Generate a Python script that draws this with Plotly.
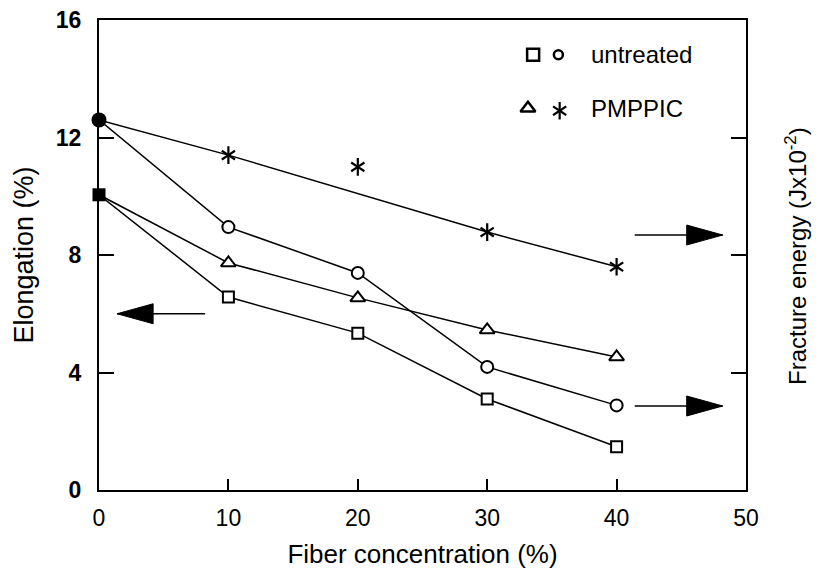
import plotly.graph_objects as go

# ---- data ----
fiber = [0, 10, 20, 30, 40]
elong_untreated = [10.05, 6.57, 5.34, 3.10, 1.47]     # squares
elong_pmppic = [10.05, 7.73, 6.54, 5.45, 4.53]        # triangles
energy_untreated = [12.6, 8.95, 7.39, 4.19, 2.88]     # circles
energy_pmppic = [12.6, 11.4, 11.0, 8.78, 7.6]         # stars
star_line_idx = [0, 1, 3, 4]                          # line drawn through these points only

x_ticks = [0, 10, 20, 30, 40, 50]
y_ticks = [0, 4, 8, 12, 16]

FONT = "Liberation Sans, Arial, sans-serif"
BLACK = "black"

fig = go.Figure()

LW = 1.5

def add_series(xs, ys, symbol, size, line_idx=None):
    lx = xs if line_idx is None else [xs[i] for i in line_idx]
    ly = ys if line_idx is None else [ys[i] for i in line_idx]
    fig.add_trace(go.Scatter(x=lx, y=ly, mode="lines",
                             line=dict(color=BLACK, width=LW),
                             showlegend=False, hoverinfo="skip"))
    fig.add_trace(go.Scatter(x=xs[1:], y=ys[1:], mode="markers",
                             marker=dict(symbol=symbol, size=size, color="white",
                                         line=dict(color=BLACK, width=2)),
                             showlegend=False))

add_series(fiber, elong_untreated, "square", 11)
add_series(fiber, elong_pmppic, "triangle-up", 13)
add_series(fiber, energy_untreated, "circle", 12)

# stars: line skips the 20% point
fig.add_trace(go.Scatter(x=[fiber[i] for i in star_line_idx],
                         y=[energy_pmppic[i] for i in star_line_idx],
                         mode="lines", line=dict(color=BLACK, width=LW),
                         showlegend=False, hoverinfo="skip"))
for sym in ("y-up-open", "y-down-open"):
    fig.add_trace(go.Scatter(x=fiber[1:], y=energy_pmppic[1:], mode="markers",
                             marker=dict(symbol=sym, size=11, color=BLACK,
                                         line=dict(color=BLACK, width=2.2)),
                             showlegend=False))

# filled starting points at 0 %
fig.add_trace(go.Scatter(x=[fiber[0]], y=[elong_untreated[0]], mode="markers",
                         marker=dict(symbol="square", size=13, color=BLACK),
                         cliponaxis=False, showlegend=False))
fig.add_trace(go.Scatter(x=[fiber[0]], y=[energy_untreated[0]], mode="markers",
                         marker=dict(symbol="circle", size=15, color=BLACK),
                         cliponaxis=False, showlegend=False))

# ---- custom legend (on an overlay axis spanning the plot area, 0..1) ----
leg_rows = [
    dict(y=0.926, syms=[("square", 12, 0.671), ("circle", 9, 0.710)], label="untreated", tx=0.758),
    dict(y=0.812, syms=[("triangle-up", 13, 0.663), ("star", 0, 0.712)], label="PMPPIC", tx=0.758),
]
for row in leg_rows:
    for sym, size, sx in row["syms"]:
        if sym == "star":
            for s2 in ("y-up-open", "y-down-open"):
                fig.add_trace(go.Scatter(x=[sx], y=[row["y"] - 0.005], xaxis="x2", yaxis="y2",
                                         mode="markers",
                                         marker=dict(symbol=s2, size=11, color=BLACK,
                                                     line=dict(color=BLACK, width=2.2)),
                                         showlegend=False))
        else:
            fig.add_trace(go.Scatter(x=[sx], y=[row["y"]], xaxis="x2", yaxis="y2",
                                     mode="markers",
                                     marker=dict(symbol=sym, size=size, color="white",
                                                 line=dict(color=BLACK, width=2.5)),
                                     showlegend=False))
    fig.add_annotation(x=row["tx"], y=row["y"], xref="x2", yref="y2", text=row["label"],
                       showarrow=False, xanchor="left", yanchor="middle",
                       font=dict(family=FONT, size=24, color=BLACK))

# ---- arrows (tail x, tip x, y in data units) ----
arrows = [
    (8.2, 1.4, 6.0),
    (41.4, 48.2, 8.68),
    (41.4, 48.2, 2.86),
]
for tail, tip, yv in arrows:
    direction = 1 if tip > tail else -1
    fig.add_shape(type="line", x0=tail, x1=tip, y0=yv, y1=yv,
                  line=dict(color=BLACK, width=1.5))
    fig.add_shape(type="path", xsizemode="pixel", ysizemode="pixel",
                  xanchor=tip, yanchor=yv,
                  path=f"M0,0 L{-36*direction},10 L{-36*direction},-10 Z",
                  fillcolor=BLACK, line=dict(color=BLACK, width=1))

W, H = 828, 569
L, R, T, B = 99, 82, 20, 79

# right-hand axis title
fig.add_annotation(x=(813 - L) / (W - L - R), y=(H - B - 256) / (H - T - B),
                   xref="paper", yref="paper",
                   text="Fracture energy (Jx10<sup>-2</sup>)", textangle=-90,
                   showarrow=False, font=dict(family=FONT, size=24, color=BLACK))

axis_common = dict(showgrid=False, zeroline=False, showline=True, linecolor=BLACK,
                   linewidth=2, ticks="inside", tickcolor=BLACK, tickwidth=2,
                   automargin=False)

fig.update_layout(
    width=W, height=H,
    margin=dict(l=L, r=R, t=T, b=B, pad=0),
    paper_bgcolor="white", plot_bgcolor="white",
    showlegend=False,
    font=dict(family=FONT, color=BLACK),
    xaxis=dict(range=[0, 50], tickvals=x_ticks, ticklen=11, mirror=True,
               ticklabelstandoff=6,
               tickfont=dict(family=FONT, size=23, color=BLACK),
               title=dict(text="Fiber concentration (%)",
                          font=dict(family=FONT, size=26, color=BLACK), standoff=16),
               **axis_common),
    yaxis=dict(range=[0, 16], tickvals=y_ticks, ticklen=15, mirror="ticks",
               ticklabelstandoff=11,
               tickfont=dict(family=FONT, size=23, color=BLACK, weight="bold"),
               title=dict(text="Elongation (%)",
                          font=dict(family=FONT, size=27, color=BLACK), standoff=14),
               **axis_common),
    xaxis2=dict(range=[0, 1], overlaying="x", visible=False, anchor="y2"),
    yaxis2=dict(range=[0, 1], overlaying="y", visible=False, anchor="x2"),
)

fig.write_html("out.html")
